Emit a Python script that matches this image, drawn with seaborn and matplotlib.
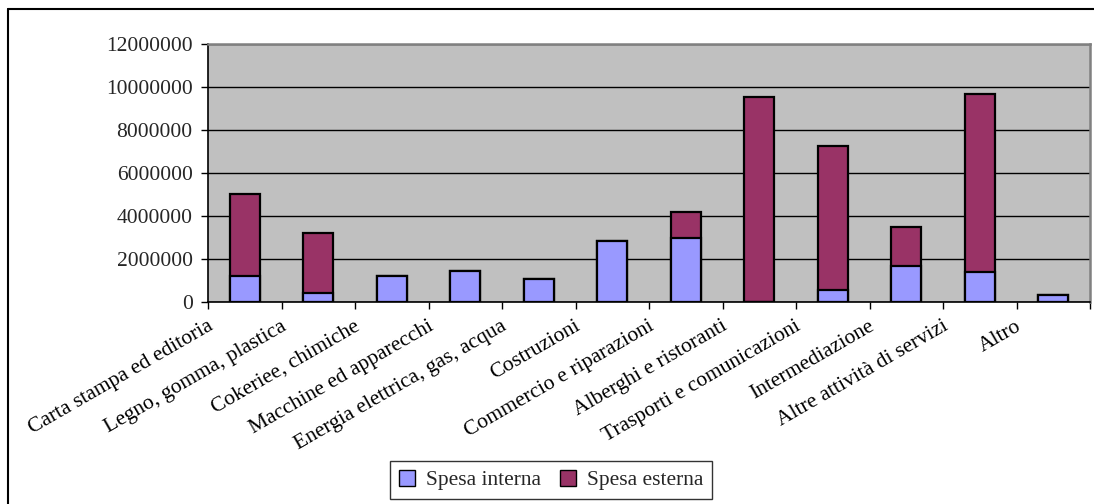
import matplotlib
matplotlib.use("Agg")
import matplotlib.pyplot as plt
import matplotlib.transforms as mtransforms
from matplotlib.lines import Line2D
from matplotlib.patches import Patch
import numpy as np
import pandas as pd
import seaborn as sns

# Spending by sector (euro)
settori = [
    "Carta stampa ed editoria",
    "Legno, gomma, plastica",
    "Cokeriee, chimiche",
    "Macchine ed apparecchi",
    "Energia elettrica, gas, acqua",
    "Costruzioni",
    "Commercio e riparazioni",
    "Alberghi e ristoranti",
    "Trasporti e comunicazioni",
    "Intermediazione",
    "Altre attività di servizi",
    "Altro",
]
spesa_interna = [1200000, 400000, 1200000, 1450000, 1050000, 2820000,
                 2980000, 0, 560000, 1690000, 1380000, 330000]
spesa_esterna = [3810000, 2820000, 0, 0, 0, 0,
                 1210000, 9520000, 6700000, 1780000, 8290000, 0]
y_ticks = [0, 2000000, 4000000, 6000000, 8000000, 10000000, 12000000]

COL_INT = "#9999FF"
COL_EST = "#993366"
FS = 15.5

df = pd.DataFrame({
    "settore": settori,
    "interna": spesa_interna,
    "totale": np.array(spesa_interna) + np.array(spesa_esterna),
})

sns.set_theme(style="white")
plt.rcParams["font.family"] = ["Liberation Serif", "DejaVu Serif"]

fig = plt.figure(figsize=(10.94, 5.04), dpi=100)
ax = fig.add_axes([208 / 1094, 1 - 302 / 504, (1090 - 208) / 1094, (302 - 44) / 504])
ax.set_facecolor("#C0C0C0")

# stacked bars: total (external on top) first, internal share drawn over it
sns.barplot(data=df, x="settore", y="totale", color=COL_EST, width=0.41,
            edgecolor="black", linewidth=1.6, saturation=1, ax=ax, zorder=3)
sns.barplot(data=df, x="settore", y="interna", color=COL_INT, width=0.41,
            edgecolor="black", linewidth=1.6, saturation=1, ax=ax, zorder=4)

ax.set_ylim(0, 12000000)
ax.set_xlim(-0.5, len(settori) - 0.5)
ax.set_yticks(y_ticks)
ax.set_yticklabels([str(v) for v in y_ticks], fontsize=FS)
ax.yaxis.grid(True, color="black", linewidth=1.0, zorder=1)
ax.set_axisbelow(True)
ax.set_xlabel("")
ax.set_ylabel("")

# category ticks on the boundaries, labels at the centres
ax.set_xticks(np.arange(len(settori)))
ax.set_xticklabels([])
ax.tick_params(axis="x", which="major", length=0)
ax.set_xticks(np.arange(-0.5, len(settori)), minor=True)
ax.tick_params(axis="x", which="minor", length=5, width=1, color="black",
               direction="out", bottom=True)
ax.tick_params(axis="y", length=5, width=1, color="black", direction="out",
               left=True, pad=6)

offset = mtransforms.ScaledTranslation(-38 / 100, -15 / 100, fig.dpi_scale_trans)
for i, lab in enumerate(settori):
    ax.text(i, 0, lab, transform=ax.get_xaxis_transform() + offset,
            rotation=30, rotation_mode="anchor", ha="right", va="top",
            fontsize=FS, color="black")

for side in ["left", "bottom"]:
    ax.spines[side].set_color("black")
    ax.spines[side].set_linewidth(1.2)
for side in ["top", "right"]:
    ax.spines[side].set_color("#808080")
    ax.spines[side].set_linewidth(1.8)

handles = [Patch(facecolor=COL_INT, edgecolor="black", linewidth=1.0, label="Spesa interna"),
           Patch(facecolor=COL_EST, edgecolor="black", linewidth=1.0, label="Spesa esterna")]
leg = fig.legend(handles=handles, loc="center", bbox_to_anchor=(551 / 1094, 1 - 480 / 504),
                 ncol=2, fontsize=FS, frameon=True, fancybox=False,
                 edgecolor="black", handlelength=0.75, handleheight=0.75,
                 handletextpad=0.5, columnspacing=0.9, borderpad=0.4,
                 borderaxespad=0.0)
leg.get_frame().set_linewidth(1.0)
leg._legend_box.sep = 0

# chart frame (left and top edges)
fig.add_artist(Line2D([8 / 1094, 8 / 1094], [0, 1 - 9 / 504], color="black",
                      linewidth=1.5, transform=fig.transFigure))
fig.add_artist(Line2D([8 / 1094, 1], [1 - 9 / 504, 1 - 9 / 504], color="black",
                      linewidth=1.5, transform=fig.transFigure))

fig.savefig("out.png", dpi=100, facecolor="white")
